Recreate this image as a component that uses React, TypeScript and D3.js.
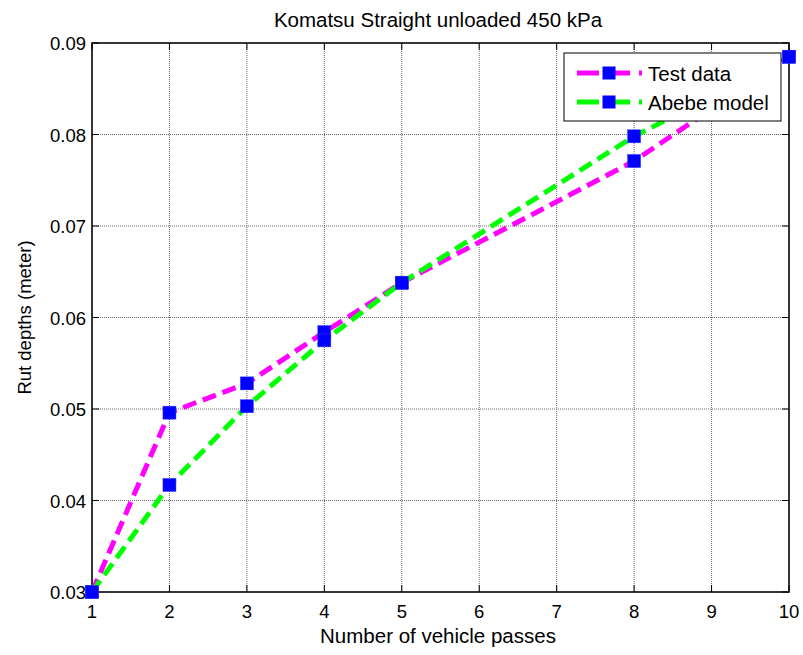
import React from "react";
import * as d3 from "d3";

const passes = [1, 2, 3, 4, 5, 8, 10];
const testData = [0.03, 0.0496, 0.0528, 0.0584, 0.0638, 0.0771, 0.0885];
const abebeModel = [0.03, 0.0417, 0.0503, 0.0575, 0.0638, 0.0798, 0.0885];
const xTicks = [1, 2, 3, 4, 5, 6, 7, 8, 9, 10];
const yTicks = [0.03, 0.04, 0.05, 0.06, 0.07, 0.08, 0.09];

const W = 803, H = 655;
const L = 92, R = 789, T = 43, B = 592;
const font = "'Liberation Sans', Arial, sans-serif";

export default function App() {
  const x = d3.scaleLinear().domain([1, 10]).range([L, R]);
  const y = d3.scaleLinear().domain([0.03, 0.09]).range([B, T]);
  const line = d3.line<number>().x((_, i) => x(passes[i])).y((d) => y(d));
  const series = [
    { name: "Test data", vals: testData, color: "#ff00ff" },
    { name: "Abebe model", vals: abebeModel, color: "#00ff00" },
  ];
  const ms = 13;
  return (
    <svg width={W} height={H} style={{ position: "absolute", left: 0, top: 0, background: "#fff" }} fontFamily={font}>
      <rect x={0} y={0} width={W} height={H} fill="#fff" />
      {xTicks.map((t) => (
        <line key={"gx" + t} x1={x(t)} x2={x(t)} y1={T} y2={B} stroke="#666" strokeWidth={1} strokeDasharray="1,1" />
      ))}
      {yTicks.map((t) => (
        <line key={"gy" + t} x1={L} x2={R} y1={y(t)} y2={y(t)} stroke="#666" strokeWidth={1} strokeDasharray="1,1" />
      ))}
      {xTicks.map((t) => (
        <g key={"tx" + t}>
          <line x1={x(t)} x2={x(t)} y1={B} y2={B - 7} stroke="#000" />
          <line x1={x(t)} x2={x(t)} y1={T} y2={T + 7} stroke="#000" />
          <text x={x(t)} y={B + 26} textAnchor="middle" fontSize={18.5}>{t}</text>
        </g>
      ))}
      {yTicks.map((t) => (
        <g key={"ty" + t}>
          <line x1={L} x2={L + 7} y1={y(t)} y2={y(t)} stroke="#000" />
          <line x1={R} x2={R - 7} y1={y(t)} y2={y(t)} stroke="#000" />
          <text x={L - 6} y={y(t) + 7} textAnchor="end" fontSize={18.5}>{t.toFixed(2)}</text>
        </g>
      ))}
      <rect x={L} y={T} width={R - L} height={B - T} fill="none" stroke="#000" strokeWidth={1.5} />
      {series.map((s) => (
        <g key={s.name}>
          <path d={line(s.vals) || ""} fill="none" stroke={s.color} strokeWidth={5} strokeDasharray="14,7" />
          {s.vals.map((v, i) => (
            <rect key={i} x={x(passes[i]) - ms / 2} y={y(v) - ms / 2} width={ms} height={ms} fill="#0000ff" stroke="#3333ff" strokeWidth={0.5} />
          ))}
        </g>
      ))}
      <rect x={564} y={53} width={217} height={68} fill="#fff" stroke="#000" strokeWidth={1} />
      {series.map((s, i) => {
        const cy = 73 + i * 29;
        return (
          <g key={"lg" + s.name}>
            <line x1={577} x2={642} y1={cy} y2={cy} stroke={s.color} strokeWidth={5} strokeDasharray="22,9" />
            <rect x={609 - ms / 2} y={cy - ms / 2} width={ms} height={ms} fill="#0000ff" />
            <text x={648} y={cy + 7.5} fontSize={20.5}>{s.name}</text>
          </g>
        );
      })}
      <text x={438} y={27} textAnchor="middle" fontSize={20.5}>Komatsu Straight unloaded 450 kPa</text>
      <text x={438} y={643} textAnchor="middle" fontSize={20.5}>Number of vehicle passes</text>
      <text transform={`translate(31,${(T + B) / 2}) rotate(-90)`} textAnchor="middle" fontSize={18.5}>Rut depths (meter)</text>
    </svg>
  );
}
